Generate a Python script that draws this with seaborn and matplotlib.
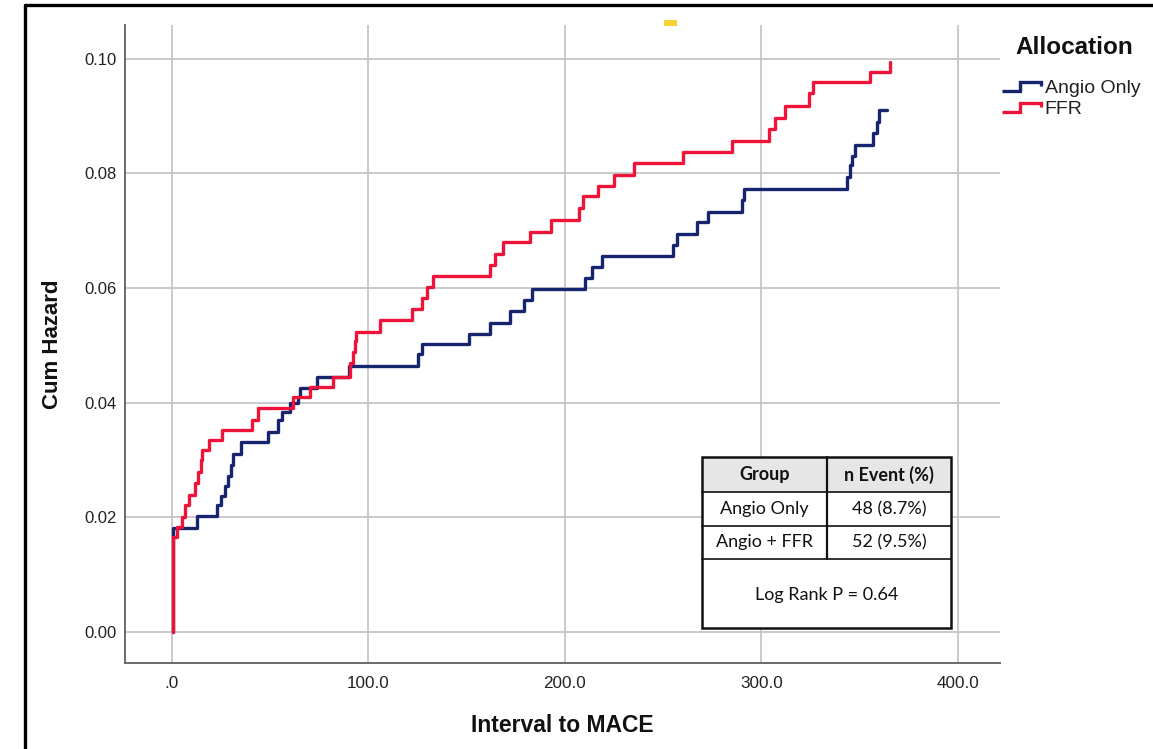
import numpy as np
import pandas as pd
import matplotlib
matplotlib.use("Agg")
import matplotlib.pyplot as plt
import seaborn as sns
from matplotlib.lines import Line2D
from matplotlib.patches import Rectangle
from matplotlib.legend_handler import HandlerBase

# Nelson-Aalen cumulative hazard, event times (days) and step heights
angio_times = [0.5, 0.5, 12.7, 23, 25, 27, 28.5, 30, 31, 35, 49, 54, 56, 60, 64, 65, 74,
               90, 125, 127, 151, 162, 172, 179, 183, 210, 214, 219, 255, 257,
               267, 273, 290, 291, 343.5, 345, 346, 347.5, 357, 359, 360, 364]
angio_hazard = [0.0, 0.0182, 0.0202, 0.0222, 0.0237, 0.0255, 0.0272, 0.0291, 0.0310,
                0.0332, 0.0349, 0.0370, 0.0384, 0.0400, 0.0410, 0.0426, 0.0445,
                0.0464, 0.0485, 0.0503, 0.0520, 0.0540, 0.0560, 0.0580, 0.0599,
                0.0618, 0.0637, 0.0656, 0.0675, 0.0695, 0.0716, 0.0733, 0.0754,
                0.0773, 0.0794, 0.0815, 0.0830, 0.0850, 0.0870, 0.0890, 0.0910, 0.0910]

ffr_times = [0.5, 0.5, 2.5, 5, 6.6, 8.8, 11.7, 13.4, 15, 15.5, 19, 25.4, 40.6, 44,
             61.6, 70, 82, 90.6, 92, 93, 93.5, 106, 122, 127, 130, 133, 162, 164.5,
             168.5, 182, 193, 207, 209, 217, 225, 235, 260, 285, 304, 307, 312,
             324, 326, 355, 365.5, 365.5]
ffr_hazard = [0.0, 0.0166, 0.0183, 0.0200, 0.0222, 0.0239, 0.0260, 0.0280, 0.0300,
              0.0318, 0.0335, 0.0353, 0.0370, 0.0390, 0.0410, 0.0428, 0.0445,
              0.0470, 0.0489, 0.0507, 0.0524, 0.0544, 0.0564, 0.0583, 0.0602,
              0.0621, 0.0640, 0.0660, 0.0680, 0.0698, 0.0719, 0.0740, 0.0760,
              0.0778, 0.0798, 0.0818, 0.0838, 0.0857, 0.0878, 0.0897, 0.0918,
              0.0940, 0.0960, 0.0977, 0.0995, 0.0995]

groups = ["Angio Only", "FFR"]
legend_title = "Allocation"
x_ticks = [0, 100, 200, 300, 400]
x_tick_labels = [".0", "100.0", "200.0", "300.0", "400.0"]
y_ticks = [0.00, 0.02, 0.04, 0.06, 0.08, 0.10]
y_tick_labels = ["0.00", "0.02", "0.04", "0.06", "0.08", "0.10"]

table_header = ["Group", "n Event (%)"]
table_groups = ["Angio Only", "Angio + FFR"]
table_events = ["48 (8.7%)", "52 (9.5%)"]
table_footer = "Log Rank P = 0.64"

colors = {"Angio Only": "#17256e", "FFR": "#ee1339"}

df = pd.concat([
    pd.DataFrame({"time": angio_times, "hazard": angio_hazard, "Allocation": groups[0]}),
    pd.DataFrame({"time": ffr_times, "hazard": ffr_hazard, "Allocation": groups[1]}),
], ignore_index=True)

sns.set_style("white")
plt.rcParams["font.family"] = ["Liberation Sans", "DejaVu Sans"]

W, H = 1153, 749
fig = plt.figure(figsize=(W / 100, H / 100), dpi=100)


def fx(px):
    return px / W


def fy(py):
    return 1 - py / H


ax = fig.add_axes([fx(125), fy(663), fx(1000) - fx(125), fy(25) - fy(663)])

sns.lineplot(data=df, x="time", y="hazard", hue="Allocation", palette=colors,
             estimator=None, sort=False, units="Allocation", drawstyle="steps-post",
             linewidth=2.4, legend=False, ax=ax, zorder=3)

ax.set_xlim(-23.9, 421.4)
ax.set_ylim(-0.0054, 0.1059)
ax.set_xticks(x_ticks)
ax.set_xticklabels(x_tick_labels)
ax.set_yticks(y_ticks)
ax.set_yticklabels(y_tick_labels)
ax.tick_params(axis="x", length=0, pad=9, labelsize=12.3, colors="#222222")
ax.tick_params(axis="y", length=0, pad=6, labelsize=12, colors="#222222")
ax.grid(True, color="#c6c6c6", linewidth=1.3)
ax.set_axisbelow(True)
for side in ["top", "right"]:
    ax.spines[side].set_visible(False)
for side in ["left", "bottom"]:
    ax.spines[side].set_color("#6a6a6a")
    ax.spines[side].set_linewidth(1.4)

ax.set_xlabel("Interval to MACE", fontsize=16.5, fontweight="bold", color="#111111")
ax.set_ylabel("Cum Hazard", fontsize=16, fontweight="bold", color="#111111")
ax.xaxis.set_label_coords(0.5, -0.080)
ax.yaxis.set_label_coords(-0.071, 0.5)


class StepHandler(HandlerBase):
    def create_artists(self, legend, orig_handle, xdescent, ydescent, width, height,
                       fontsize, trans):
        xs = np.array([0.0, 0.47, 0.47, 1.0, 1.0]) * width - xdescent
        ys = np.array([0.12, 0.12, 0.78, 0.78, 0.5]) * height - ydescent
        line = Line2D(xs, ys, color=orig_handle.get_color(),
                      linewidth=orig_handle.get_linewidth(),
                      solid_joinstyle="miter", solid_capstyle="butt")
        line.set_transform(trans)
        return [line]


# Legend title placed on its own, entries below it
fig.text(fx(1015), fy(48), legend_title, ha="left", va="center", fontsize=17.5,
         fontweight="bold", color="#111111")
handles = [Line2D([], [], color=colors[g], linewidth=2.4) for g in groups]
leg = fig.legend(handles, groups, handler_map={Line2D: StepHandler()},
                 loc="upper left", bbox_to_anchor=(fx(1002), fy(79)),
                 frameon=False, fontsize=14,
                 handlelength=2.0, handletextpad=0.2, labelspacing=0.2,
                 borderpad=0, borderaxespad=0)
for t in leg.get_texts():
    t.set_color("#222222")

# Summary table
tbl_font = ["Lato", "DejaVu Sans"]
left, right, mid = 702, 951, 827
top, r1, r2, r3, bottom = 457, 492, 526, 559, 628
fig.patches.append(Rectangle((fx(left), fy(r1)), fx(right) - fx(left), fy(top) - fy(r1),
                             transform=fig.transFigure, facecolor="#e6e6e6",
                             edgecolor="none", zorder=5))
fig.patches.append(Rectangle((fx(left), fy(bottom)), fx(right) - fx(left), fy(r1) - fy(bottom),
                             transform=fig.transFigure, facecolor="white",
                             edgecolor="none", zorder=5))
for yy in [r1, r2, r3]:
    fig.lines.append(Line2D([fx(left), fx(right)], [fy(yy), fy(yy)],
                            transform=fig.transFigure, color="#111111", lw=1.2, zorder=6))
fig.lines.append(Line2D([fx(mid), fx(mid)], [fy(top), fy(r3)],
                        transform=fig.transFigure, color="#111111", lw=1.6, zorder=6))
fig.patches.append(Rectangle((fx(left), fy(bottom)), fx(right) - fx(left),
                             fy(top) - fy(bottom), transform=fig.transFigure,
                             facecolor="none", edgecolor="#111111", lw=1.8, zorder=7))

c1 = (left + mid) / 2
c2 = (mid + right) / 2
for c, txt in zip([c1, c2], table_header):
    fig.text(fx(c), fy((top + r1) / 2), txt, ha="center", va="center",
             fontsize=13, fontweight="bold", family=tbl_font, color="#111111", zorder=8)
for i, (g, e) in enumerate(zip(table_groups, table_events)):
    yc = [(r1 + r2) / 2, (r2 + r3) / 2][i]
    fig.text(fx(c1), fy(yc), g, ha="center", va="center", fontsize=13,
             family=tbl_font, color="#111111", zorder=8)
    fig.text(fx(c2), fy(yc), e, ha="center", va="center", fontsize=13,
             family=tbl_font, color="#111111", zorder=8)
fig.text(fx(mid), fy(595), table_footer, ha="center", va="center", fontsize=13,
         family=tbl_font, color="#111111", zorder=8)

# Outer frame and small marker
fig.lines.append(Line2D([fx(25), fx(1160)], [fy(4.5), fy(4.5)], transform=fig.transFigure,
                        color="black", lw=2.4))
fig.lines.append(Line2D([fx(25), fx(25)], [fy(4.5), fy(760)], transform=fig.transFigure,
                        color="black", lw=2.4))
fig.patches.append(Rectangle((fx(664), fy(26)), fx(13), 6 / H, transform=fig.transFigure,
                             facecolor="#f6d232", edgecolor="none"))

fig.savefig("out.png", dpi=100)
